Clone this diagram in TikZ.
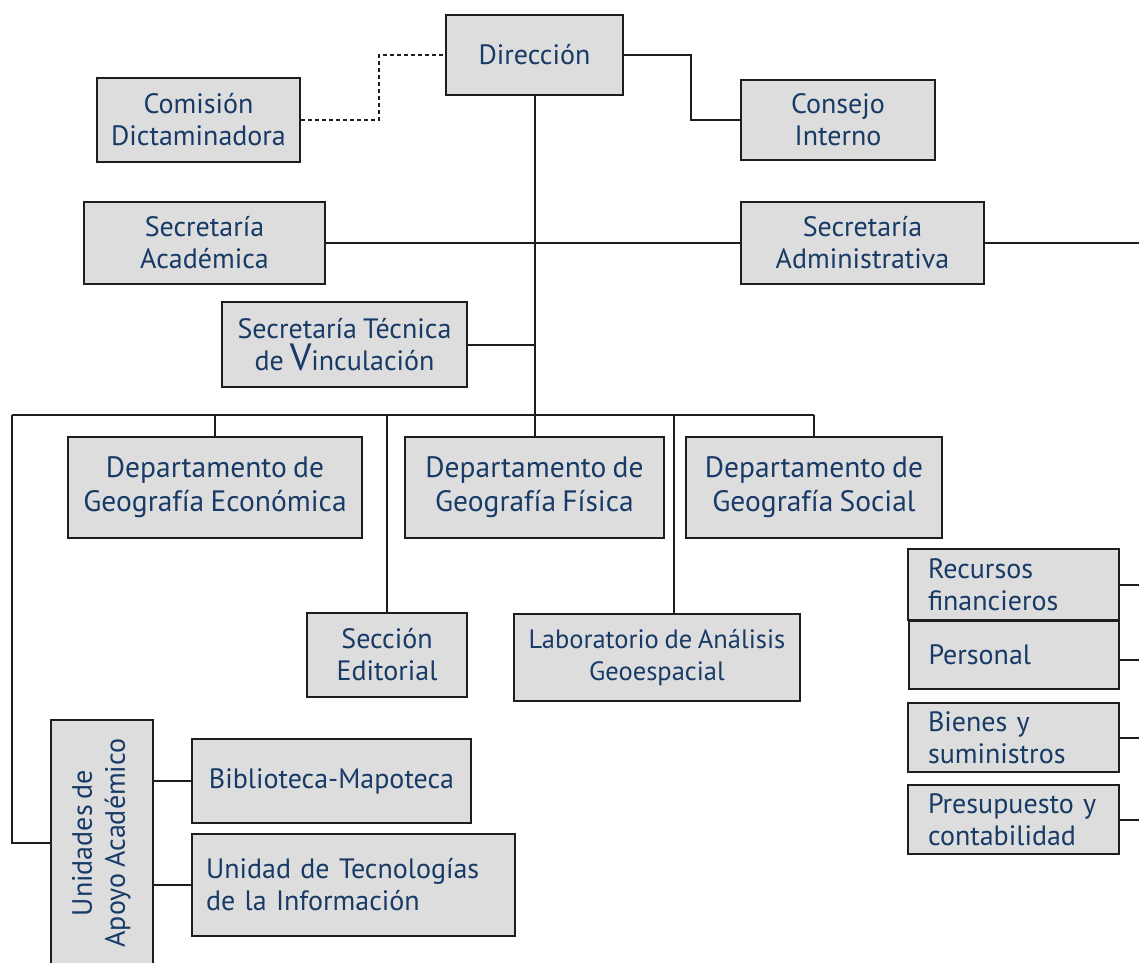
\documentclass[tikz,border=0pt]{standalone}
\usepackage{fontspec}
\setmainfont{PT Sans}[WordSpace=0.8]
\usepackage{graphicx}
\usetikzlibrary{calc}
\definecolor{txt}{HTML}{173A66}
\definecolor{boxfill}{HTML}{DDDDDD}
\definecolor{edge}{HTML}{1E1E1E}
\tikzset{
  box/.style={draw=edge, fill=boxfill, line width=2.2pt, inner sep=0pt, align=center,
    text=txt, font=\fontsize{28}{32}\selectfont},
  leftbox/.style={box, align=left},
  deptbox/.style={box, font=\fontsize{29.5}{34}\selectfont},
  conn/.style={draw=edge, line width=2pt},
  dashconn/.style={conn, dash pattern=on 4pt off 3pt},
}
\begin{document}
\begin{tikzpicture}[x=1pt,y=-1pt]
\useasboundingbox (0,0) rectangle (1139,962);
% top
\node[box, minimum width=177, minimum height=80] (dir) at (534.5,55) {Dirección};
\node[box, minimum width=203, minimum height=84] (com) at (198.5,120) {Comisión\\Dictaminadora};
\node[box, minimum width=194, minimum height=80] (cons) at (838,120) {Consejo\\Interno};
\node[box, minimum width=241, minimum height=82] (sacad) at (204.5,243) {Secretaría\\Académica};
\node[box, minimum width=243, minimum height=82] (sadm) at (862.5,243) {Secretaría\\Administrativa};
\node[box, minimum width=245, minimum height=85] (stec) at (344.5,344.5) {Secretaría Técnica\\de {\fontsize{38}{32}\selectfont V}inculación};
% departments
\node[deptbox, minimum width=294, minimum height=101] (econ) at (215,487.5) {Departamento de\\Geografía Económica};
\node[deptbox, minimum width=259, minimum height=101] (fis) at (534.5,487.5) {Departamento de\\Geografía Física};
\node[deptbox, minimum width=256, minimum height=101] (soc) at (814,487.5) {Departamento de\\Geografía Social};
\node[box, minimum width=160, minimum height=84] (edit) at (387,655) {Sección\\Editorial};
\node[box, minimum width=286, minimum height=87, font=\fontsize{26.5}{32}\selectfont] (lab) at (657,657.5) {Laboratorio de Análisis\\Geoespacial};
% right column
\node[leftbox, minimum width=211, minimum height=71, text width=171] (rf) at (1013.5,584.5) {\mbox{Recursos}\\\mbox{financieros}};
\node[leftbox, minimum width=210, minimum height=68, text width=171] (pers) at (1014,655) {\mbox{Personal}};
\node[leftbox, minimum width=211, minimum height=69, text width=171] (bien) at (1013.5,737.5) {\mbox{Bienes y}\\\mbox{suministros}};
\node[leftbox, minimum width=211, minimum height=69, text width=171] (pres) at (1013.5,819.5) {\mbox{Presupuesto y}\\\mbox{contabilidad}};
% bottom left
\node[box, minimum width=102, minimum height=246] (unid) at (102,843) {\rotatebox{90}{\begin{tabular}{@{}c@{}}Unidades de\\[1pt]Apoyo Académico\end{tabular}}};
\node[box, minimum width=279, minimum height=84] (bib) at (331.5,781) {Biblioteca-Mapoteca};
\node[leftbox, minimum width=323, minimum height=102, text width=295] (uti) at (353.5,885) {\mbox{Unidad de Tecnologías}\\\mbox{de la Información}};
% coordinates
\coordinate (bus) at (534.5,415);
\coordinate (busL) at (12,415);
\coordinate (busR) at (814,415);
\coordinate (redge) at (1139,243);
\coordinate (rfE) at (1139,584.5);
\coordinate (persE) at (1139,660);
\coordinate (bienE) at (1139,737.5);
\coordinate (presE) at (1139,819.5);
\coordinate (labtop) at (674,614);
\coordinate (unidL) at (12,843);
% connectors
\draw[dashconn] (com.east) -- ++(78,0) |- (dir.west);
\draw[conn] (dir.east) -- ++(67,0) |- (cons.west);
\draw[conn] (dir.south) -- (bus);
\draw[conn] (sacad.east) -- (sadm.west);
\draw[conn] (sadm.east) -- (redge);
\draw[conn] (stec.east) -- (stec.east -| bus);
\draw[conn] (busL) -- (busR);
\draw[conn] (econ.north |- bus) -- (econ.north);
\draw[conn] (bus) -- (fis.north);
\draw[conn] (busR) -- (soc.north);
\draw[conn] (edit.north |- bus) -- (edit.north);
\draw[conn] (labtop |- bus) -- (labtop);
\draw[conn] (busL) -- (unidL) -- (unid.west);
\draw[conn] (unid.east |- bib.west) -- (bib.west);
\draw[conn] (unid.east |- uti.west) -- (uti.west);
\draw[conn] (rf.east) -- (rfE);
\draw[conn] (pers.east |- persE) -- (persE);
\draw[conn] (bien.east) -- (bienE);
\draw[conn] (pres.east) -- (presE);
\end{tikzpicture}
\end{document}
